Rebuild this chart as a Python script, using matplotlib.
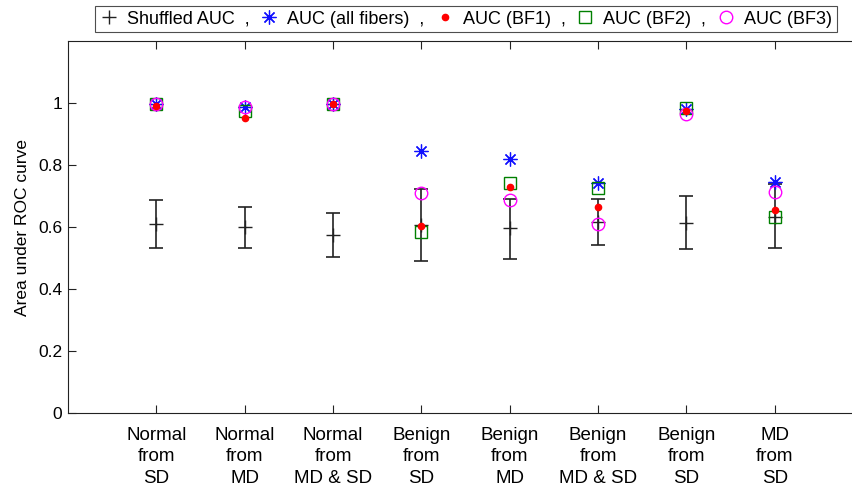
import matplotlib.pyplot as plt
from matplotlib.lines import Line2D

plt.rcParams['font.family'] = ['Liberation Sans', 'DejaVu Sans']

# Comparison groups
groups = ["Normal\nfrom\nSD", "Normal\nfrom\nMD", "Normal\nfrom\nMD & SD", "Benign\nfrom\nSD",
          "Benign\nfrom\nMD", "Benign\nfrom\nMD & SD", "Benign\nfrom\nSD", "MD\nfrom\nSD"]

# Shuffled AUC: mean with lower / upper bounds
shuf_mean = [0.610, 0.600, 0.575, 0.605, 0.596, 0.616, 0.613, 0.633]
shuf_low = [0.531, 0.531, 0.504, 0.490, 0.498, 0.541, 0.528, 0.532]
shuf_high = [0.688, 0.665, 0.644, 0.723, 0.690, 0.691, 0.701, 0.739]

auc_all = [0.996, 0.986, 0.998, 0.846, 0.819, 0.743, 0.980, 0.746]
auc_bf1 = [0.991, 0.953, 0.998, 0.603, 0.728, 0.663, 0.975, 0.655]
auc_bf2 = [0.996, 0.975, 0.998, 0.584, 0.743, 0.727, 0.984, 0.633]
auc_bf3 = [0.996, 0.986, 0.998, 0.711, 0.686, 0.610, 0.964, 0.714]

x = list(range(1, len(groups) + 1))

# MATLAB-like asterisk (plus and cross overlaid)
star = (8, 2, 0)

fig = plt.figure(figsize=(8.52, 4.91), dpi=100)
ax = fig.add_axes([68 / 852, 78 / 491, 804 / 852, 372 / 491])

err = [[m - lo for m, lo in zip(shuf_mean, shuf_low)],
       [hi - m for m, hi in zip(shuf_mean, shuf_high)]]
ax.errorbar(x, shuf_mean, yerr=err, fmt='+', color='#222222', ecolor='#222222',
            markersize=10, elinewidth=1.2, capsize=5, capthick=1.2, zorder=2)
ax.plot(x, auc_all, marker=star, color='#1010ff', markersize=10, markeredgewidth=0.9,
        linestyle='none', zorder=3)
ax.plot(x, auc_bf2, 's', color='#008000', markerfacecolor='none', markersize=8,
        markeredgewidth=1.0, linestyle='none', zorder=3)
ax.plot(x, auc_bf3, 'o', color='#ff00ff', markerfacecolor='none', markersize=9,
        markeredgewidth=1.0, linestyle='none', zorder=3)
ax.plot(x, auc_bf1, 'o', color='#ff0000', markersize=4.5, linestyle='none', zorder=4)

ax.set_xlim(0, 9.1)
ax.set_ylim(0, 1.2)
ax.set_xticks(x)
ax.set_xticklabels(groups, fontsize=13.5, linespacing=1.35)
ax.set_yticks([0, 0.2, 0.4, 0.6, 0.8, 1])
ax.set_yticklabels(['0', '0.2', '0.4', '0.6', '0.8', '1'], fontsize=12.5)
ax.tick_params(direction='in', top=True, right=True, length=6, width=0.8,
               color='#222222', pad=4)
ax.tick_params(axis='x', pad=10)
ax.set_ylabel('Area under ROC curve', fontsize=12.5, labelpad=6)
for s in ax.spines.values():
    s.set_color('#222222')
    s.set_linewidth(0.8)

handles = [
    Line2D([], [], marker='+', color='#222222', linestyle='none', markersize=10),
    Line2D([], [], marker=star, color='#1010ff', linestyle='none', markersize=10, markeredgewidth=0.9),
    Line2D([], [], marker='o', color='#ff0000', linestyle='none', markersize=4.5),
    Line2D([], [], marker='s', color='#008000', markerfacecolor='none', linestyle='none', markersize=8),
    Line2D([], [], marker='o', color='#ff00ff', markerfacecolor='none', linestyle='none', markersize=9),
]
labels = ['Shuffled AUC  ,', 'AUC (all fibers)  ,', 'AUC (BF1)  ,', 'AUC (BF2)  ,', 'AUC (BF3)']
leg = fig.legend(handles, labels, loc='center', bbox_to_anchor=(466 / 852, 1 - 19 / 491),
                 ncol=5, fontsize=13, frameon=True, fancybox=False, handlelength=1.0,
                 handletextpad=0.5, columnspacing=0.6, borderpad=0.25)
leg.get_frame().set_edgecolor('#222222')
leg.get_frame().set_linewidth(0.8)

fig.savefig('out.png', dpi=100)
